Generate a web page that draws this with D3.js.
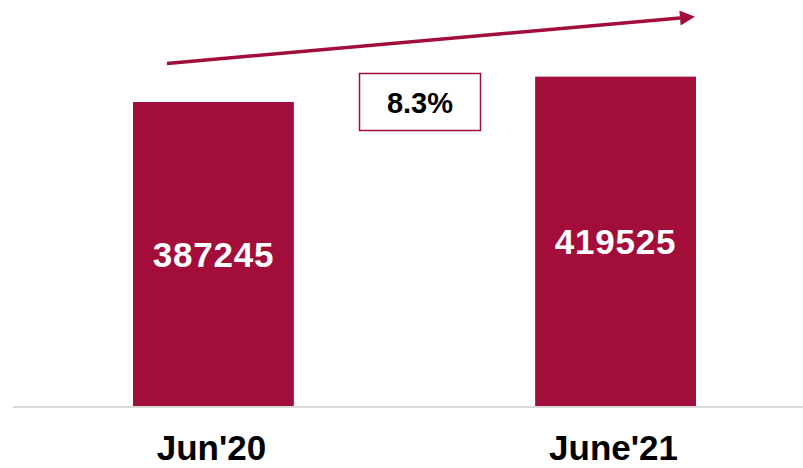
<!DOCTYPE html>
<html>
<head>
<meta charset="utf-8">
<script src="https://cdn.jsdelivr.net/npm/d3@7"></script>
<style>
  body { margin: 0; background: #fff; }
  text { font-family: "Liberation Sans", Arial, sans-serif; font-weight: bold; }
</style>
</head>
<body>
<svg id="chart" width="803" height="468"></svg>
<script>
const categories = ["Jun'20", "June'21"];
const values = [387245, 419525];
const growthLabel = "8.3%";

const svg = d3.select("svg#chart");
const barColor = "#A30D3A";
const baseY = 406;

// bars sit at 133-294 and 535-695
let xScale = d3.scaleBand().domain(categories).range([133, 696]).paddingInner(0.6).paddingOuter(0);
let yScale = d3.scaleLinear().domain([0, 387245 * baseY / 304]).range([baseY, 0]);

// baseline
svg.append("line")
    .attr("x1", 13).attr("x2", 803)
    .attr("y1", baseY + 1).attr("y2", baseY + 1)
    .attr("stroke", "#d9d9d9")
    .attr("stroke-width", 2);

const data = categories.map((c, i) => ({ name: c, value: values[i] }));

svg.selectAll("rect.bar").data(data)
    .join("rect").attr("class", "bar")
    .attr("fill", barColor)
    .attr("x", d => xScale(d.name))
    .attr("y", d => yScale(d.value))
    .attr("width", xScale.bandwidth())
    .attr("height", d => yScale(0) - yScale(d.value));

// value labels inside the bars
svg.selectAll("text.value").data(data)
    .join("text").attr("class", "value")
    .attr("x", d => xScale(d.name) + xScale.bandwidth() / 2)
    .attr("y", d => (yScale(d.value) + yScale(0)) / 2 + 12.5)
    .attr("text-anchor", "middle")
    .attr("fill", "#fff")
    .attr("font-size", 35)
    .attr("letter-spacing", 0.8)
    .text(d => d.value);

// category labels
svg.selectAll("text.cat").data(data)
    .join("text").attr("class", "cat")
    .attr("x", d => xScale(d.name) + xScale.bandwidth() / 2 - 2)
    .attr("y", 460)
    .attr("text-anchor", "middle")
    .attr("fill", "#000")
    .attr("font-size", 35)
    .text(d => d.name);

// growth arrow
const defs = svg.append("defs");
defs.append("marker")
    .attr("id", "arrowHead")
    .attr("viewBox", "0 0 10 10")
    .attr("refX", 0).attr("refY", 5)
    .attr("markerUnits", "userSpaceOnUse")
    .attr("markerWidth", 16).attr("markerHeight", 15)
    .attr("orient", "auto")
    .append("path")
    .attr("d", "M0,0 L10,5 L0,10 Z")
    .attr("fill", barColor);

svg.append("line")
    .attr("x1", 167).attr("y1", 63.5)
    .attr("x2", 680).attr("y2", 18)
    .attr("stroke", barColor)
    .attr("stroke-width", 3.5)
    .attr("marker-end", "url(#arrowHead)");

// growth box
svg.append("rect")
    .attr("x", 359.5).attr("y", 73.5)
    .attr("width", 121).attr("height", 57)
    .attr("fill", "#fff")
    .attr("stroke", barColor)
    .attr("stroke-width", 1.5);

svg.append("text")
    .attr("x", 420).attr("y", 113)
    .attr("text-anchor", "middle")
    .attr("fill", "#000")
    .attr("font-size", 29)
    .text(growthLabel);
</script>
</body>
</html>
